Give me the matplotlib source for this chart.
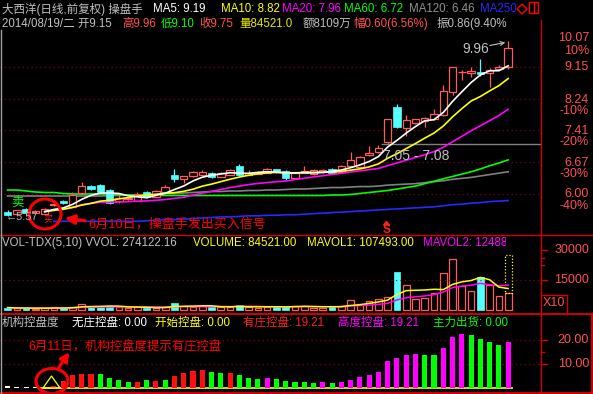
import numpy as np
import pandas as pd
import matplotlib
matplotlib.use('Agg')
import matplotlib.pyplot as plt
from matplotlib.patches import Rectangle, Ellipse, Polygon, FancyArrowPatch
from matplotlib.lines import Line2D
from matplotlib.transforms import Bbox

plt.rcParams['font.family'] = ['Liberation Sans', 'Noto Sans CJK SC']

# daily candles (55 sessions, last = 2014/08/19)
opens = [5.66, 5.62, 5.71, 5.64, 5.61, 5.79, 5.87, 5.75, 6.01, 6.16,
         6.18, 6.07, 5.87, 5.90, 5.87, 6.04, 5.95, 6.03, 6.39, 6.31,
         6.36, 6.40, 6.44, 6.35, 6.40, 6.59, 6.40, 6.42, 6.44, 6.51,
         6.47, 6.33, 6.44, 6.41, 6.45, 6.52, 6.45, 6.59, 6.57, 6.82,
         6.89, 7.13, 8.00, 7.46, 7.59, 7.64, 7.69, 7.80, 8.43, 8.99,
         8.96, 9.01, 8.96, 9.10, 9.15]
highs = [5.68, 5.69, 5.72, 5.69, 5.72, 5.88, 5.89, 6.03, 6.25, 6.18,
         6.20, 6.10, 6.00, 5.95, 6.03, 6.06, 6.08, 6.18, 6.52, 6.38,
         6.47, 6.50, 6.46, 6.45, 6.52, 6.63, 6.50, 6.47, 6.54, 6.53,
         6.50, 6.45, 6.59, 6.51, 6.52, 6.54, 6.60, 6.90, 6.80, 7.03,
         7.05, 7.70, 8.10, 7.80, 7.71, 7.74, 7.96, 8.62, 9.15, 9.06,
         9.15, 9.39, 9.11, 9.22, 9.96]
lows = [5.57, 5.60, 5.62, 5.63, 5.60, 5.76, 5.80, 5.74, 6.00, 6.08,
        6.02, 5.80, 5.82, 5.88, 5.86, 5.92, 5.94, 6.02, 6.24, 6.23,
        6.35, 6.39, 6.33, 6.34, 6.39, 6.38, 6.39, 6.41, 6.43, 6.43,
        6.28, 6.32, 6.43, 6.40, 6.44, 6.42, 6.44, 6.58, 6.56, 6.80,
        6.87, 7.08, 7.46, 7.28, 7.57, 7.49, 7.67, 7.78, 8.35, 8.76,
        8.86, 8.88, 8.55, 9.05, 9.10]
closes = [5.60, 5.68, 5.64, 5.67, 5.70, 5.81, 5.82, 5.98, 6.16, 6.10,
          6.03, 5.83, 5.93, 5.93, 6.00, 5.94, 6.06, 6.14, 6.31, 6.36,
          6.46, 6.45, 6.35, 6.44, 6.50, 6.40, 6.44, 6.45, 6.52, 6.45,
          6.33, 6.44, 6.47, 6.49, 6.50, 6.44, 6.59, 6.72, 6.79, 6.88,
          6.99, 7.69, 7.50, 7.67, 7.69, 7.72, 7.82, 8.44, 9.14, 9.01,
          9.04, 8.93, 9.06, 9.15, 9.75]
ma60 = [6.08, 6.08, 6.06, 6.04, 6.03, 6.03, 6.01, 6.00, 6.00, 6.00,
        6.00, 6.00, 5.99, 5.98, 5.97, 5.97, 5.97, 5.97, 5.97, 5.97,
        5.97, 5.97, 5.97, 5.97, 5.97, 5.97, 5.97, 5.97, 5.97, 5.97,
        5.97, 5.97, 5.97, 5.97, 5.97, 5.98, 5.98, 5.99, 6.01, 6.03,
        6.05, 6.07, 6.10, 6.13, 6.16, 6.21, 6.26, 6.31, 6.36, 6.41,
        6.46, 6.52, 6.59, 6.65, 6.72]
ma120 = [5.96, 5.96, 5.96, 5.96, 5.96, 5.96, 5.96, 5.96, 5.96, 5.96,
         5.96, 5.97, 5.97, 5.98, 5.98, 5.99, 6.00, 6.01, 6.01, 6.02,
         6.03, 6.04, 6.05, 6.05, 6.06, 6.06, 6.07, 6.07, 6.08, 6.08,
         6.09, 6.10, 6.10, 6.11, 6.12, 6.13, 6.13, 6.14, 6.15, 6.15,
         6.16, 6.18, 6.19, 6.20, 6.21, 6.23, 6.25, 6.27, 6.30, 6.32,
         6.34, 6.37, 6.40, 6.43, 6.46]
ma250 = [np.nan] * 5 + [
         5.48, 5.48, 5.48, 5.48, 5.48, 5.48, 5.48, 5.48, 5.48, 5.48,
         5.49, 5.50, 5.51, 5.51, 5.52, 5.53, 5.54, 5.55, 5.56, 5.56,
         5.57, 5.58, 5.58, 5.59, 5.59, 5.60, 5.60, 5.61, 5.62, 5.63,
         5.64, 5.65, 5.66, 5.67, 5.68, 5.69, 5.70, 5.71, 5.72, 5.73,
         5.74, 5.75, 5.77, 5.79, 5.80, 5.82, 5.83, 5.85, 5.86, 5.87]
volumes = [1200, 800, 1000, 700, 1000, 1300, 1100, 1500, 3000, 1800,
           1700, 2000, 1300, 1000, 1300, 1200, 1100, 1500, 3600, 1900,
           1700, 1800, 1500, 1400, 1600, 2300, 1400, 1200, 1600, 1700,
           1900, 2000, 2000, 1150, 1150, 2000, 2000, 5000, 3000, 4650,
           5500, 6650, 19150, 12500, 5500, 6200, 8500, 18300, 25500, 11900,
           9500, 16300, 12500, 7000, 8452]
vol_forecast = 27500
ctrl_vals = [0.8, 0.5, 0.5, 0.5, 0, 1.0, 2.9, 5.4, 5.7, 6.0,
             5.7, 4.3, 3.3, 2.6, 2.6, 3.3, 2.9, 3.3, 5.1, 6.4,
             7.1, 7.5, 6.8, 6.2, 6.4, 5.4, 4.3, 3.8, 4.3, 3.8,
             2.9, 2.5, 2.5, 2.0, 2.5, 2.0, 2.5, 3.3, 4.7, 5.4,
             6.8, 11.2, 12.6, 13.8, 14.2, 13.8, 13.8, 16.8, 21.2, 22.5,
             22.1, 20.6, 19.3, 17.9, 19.21]
ctrl_kind = list('wwww-rrrrrggggrgrgrrrrggrgggmgggggmgmmmmmmmmmggmmmggggm')

price_ticks = ['10.07', '10%', '9.15', '8.24', '-10%', '7.41', '-20%',
               '6.67', '-30%', '6.00', '-40%']
grid_prices = [9.15, 8.24, 7.41, 6.67, 6.00]

W, H = 593, 394
X0, STEP = 7.6, 9.27
RIGHT = 541
HS = 8.3  # header font size

UP = '#ff5c5c'
DOWN = '#54ffff'
AXRED = '#d00000'
LABEL = '#ff5050'
GRID = '#a00000'
GREY = '#c0c0c0'
MAG = '#ff00ff'
GREEN = '#00ff00'
YEL = '#ffff00'
BLUE = '#2828ff'
kind_color = {'w': 'white', 'r': '#ff1010', 'g': GREEN, 'm': MAG}

fig = plt.figure(figsize=(W / 100, H / 100), dpi=100, facecolor='black')


def fx(x):
    return x / W


def fy(y):
    return 1 - y / H


def txt(x, y, s, color, size=HS, ha='left', clip=None, **kw):
    t = fig.text(fx(x), fy(y), s, color=color, fontsize=size, ha=ha, va='center', **kw)
    if clip is not None:
        t.set_clip_box(Bbox.from_extents(0, 0, clip, H))
        t.set_clip_on(True)
    return t


def panel(top, bottom):
    ax = fig.add_axes([0, fy(bottom), fx(RIGHT), (bottom - top) / H])
    ax.axis('off')
    ax.set_xlim(-X0 / STEP, (RIGHT - X0) / STEP)
    return ax


def seg(x0, y0, x1, y1, color=AXRED, lw=1.0, **kw):
    fig.add_artist(Line2D([fx(x0), fx(x1)], [fy(y0), fy(y1)], color=color, lw=lw, **kw))


n = len(closes)
x = np.arange(n)
c = pd.Series(closes)
ma5 = c.rolling(5).mean()
ma10 = c.rolling(10, min_periods=5).mean()
ma20 = c.rolling(20, min_periods=5).mean()

# ---------------- main price panel ----------------
ax = panel(30, 234)
ax.set_yscale('log')
ax.set_ylim(5.253, 10.347)
for g in grid_prices:
    ax.axhline(g, color=GRID, lw=0.8, ls=(0, (1, 3)))

ax.plot(x, ma250, color=BLUE, lw=1.2)
ax.plot(x, ma120, color='#808080', lw=1.2)
ax.plot(x, ma60, color=GREEN, lw=1.2)

bw = 0.8
for i in range(n):
    o, h, l, cl = opens[i], highs[i], lows[i], closes[i]
    lo, hi = min(o, cl), max(o, cl)
    if cl >= o:
        hi = max(hi, lo * 1.002)
        ax.vlines(i, l, lo, color=UP, lw=0.9)
        ax.vlines(i, hi, h, color=UP, lw=0.9)
        ax.add_patch(Rectangle((i - bw / 2, lo), bw, hi - lo, fill=True,
                               fc='black', ec=UP, lw=0.9, zorder=3))
    else:
        ax.vlines(i, l, h, color=DOWN, lw=0.9)
        ax.add_patch(Rectangle((i - bw / 2, lo), bw, hi - lo, fc=DOWN,
                               ec=DOWN, lw=0.5, zorder=3))

ax.plot(x, ma20, color=MAG, lw=1.2, zorder=4)
ax.plot(x, ma10, color=YEL, lw=1.2, zorder=4)
ax.plot(x, ma5, color='white', lw=1.2, zorder=4)
ax.hlines(7.08, (381 - X0) / STEP, (RIGHT - X0) / STEP, color='#808080', lw=1.0)

# ---------------- volume panel ----------------
axv = panel(236, 312)
axv.set_ylim(-1000, 37000)
axv.axhline(15000, color=GRID, lw=0.8, ls=(0, (1, 3)))
vw = 0.72
for i in range(n):
    if closes[i] >= opens[i]:
        axv.add_patch(Rectangle((i - vw / 2, 0), vw, volumes[i], fill=False, ec=UP, lw=0.9))
    else:
        axv.add_patch(Rectangle((i - vw / 2, 0), vw, volumes[i], fc=DOWN, ec=DOWN, lw=0.5))
axv.add_patch(Rectangle((n - 1 - vw / 2, volumes[-1]), vw, vol_forecast - volumes[-1],
                        fill=False, ec=YEL, lw=0.9, ls=(0, (1, 1.5))))
v = pd.Series(volumes)
axv.plot(x, v.rolling(10, min_periods=1).mean(), color=MAG, lw=1.1)
axv.plot(x, v.rolling(5, min_periods=1).mean(), color=YEL, lw=1.1)

# ---------------- 机构控盘度 panel ----------------
axi = panel(314, 392)
axi.set_ylim(-4 / 2.4, (388 - 314) / 2.4)
for g in [10, 20]:
    axi.axhline(g, color=GRID, lw=0.8, ls=(0, (1, 3)))
axi.hlines(0, 3.5, n - 0.5, color=YEL, lw=1.2)
for i in range(n):
    if ctrl_kind[i] != '-':
        axi.bar(i, ctrl_vals[i], width=0.55, color=kind_color[ctrl_kind[i]], zorder=3)

# ---------------- frame lines ----------------
seg(RIGHT, 20, RIGHT, H)
seg(0, 235, W, 235)
seg(0, 313.5, W, 313.5, lw=1.4)
seg(0, 392.5, W, 392.5, lw=1.4)
seg(1, 30, 1, H, color='#a0a0a0')
seg(592, 313.5, 592, 392.5, lw=1.4)
# X10 box
seg(RIGHT, 295, 567, 295)
seg(567, 295, 567, 312)
txt(554, 303.5, 'X10', LABEL, size=9, ha='center')
for yy, ln in [(250, 6), (258, 3), (265, 3), (280, 6)]:
    seg(RIGHT, yy, RIGHT + ln, yy)
for yy, ln in [(340, 6), (352, 3), (364, 6)]:
    seg(RIGHT, yy, RIGHT + ln, yy)

# ---------------- headers ----------------
txt(2, 9, '大西洋(日线,前复权) 操盘手', GREY)
txt(153, 9, 'MA5: 9.19', 'white')
txt(221, 9, 'MA10: 8.82', YEL)
txt(282, 9, 'MA20: 7.96', MAG)
txt(344, 9, 'MA60: 6.72', GREEN)
txt(409, 9, 'MA120: 6.46', '#909090')
txt(480, 9, 'MA250: 5.87', BLUE, clip=516)
fig.add_artist(Polygon([(fx(517), fy(9)), (fx(522), fy(4)), (fx(527), fy(9)), (fx(522), fy(14))],
                       closed=True, fill=False, ec='#ff0000', lw=1.0))
fig.add_artist(Rectangle((fx(529), fy(13)), fx(9), 11 / H, fill=False, ec='#ff0000', lw=1.0))
seg(534, 2, 534, 13, color='#ff0000')

txt(2, 24, '2014/08/19/二 开9.15', GREY)
txt(122, 24, '高9.96', LABEL)
txt(161, 24, '低9.10', GREEN)
txt(199, 24, '收9.75', LABEL)
txt(239, 24, '量84521.0', '#e8e800')
txt(303, 24, '额8109万', GREY)
txt(353, 24, '幅0.60(6.56%)', LABEL)
txt(437, 24, '振0.86(9.40%', GREY)

txt(2, 243, 'VOL-TDX(5,10) VVOL: 274122.16', GREY)
txt(193, 243, 'VOLUME: 84521.00', YEL)
txt(307, 243, 'MAVOL1: 107493.00', YEL)
txt(423, 243, 'MAVOL2: 124881.00', MAG, clip=506)

txt(2, 323, '机构控盘度', GREY)
txt(72, 323, '无庄控盘: 0.00', 'white')
txt(155, 323, '开始控盘: 0.00', YEL)
txt(243, 323, '有庄控盘: 19.21', '#ff2020')
txt(338, 323, '高度控盘: 19.21', MAG)
txt(433, 323, '主力出货: 0.00', GREEN)

# right axis labels
for s, yy in zip(price_ticks, [38, 51, 67, 100, 111, 131, 142, 163, 174, 194, 206]):
    txt(589, yy, s, LABEL, size=9, ha='right')
txt(589, 250, '30000', LABEL, size=9, ha='right')
txt(589, 280, '15000', LABEL, size=9, ha='right')
txt(589, 340, '20.00', LABEL, size=9, ha='right')
txt(589, 364, '10.00', LABEL, size=9, ha='right')

# ---------------- annotations ----------------
txt(462, 49, '9.96', GREY, size=10)
fig.add_artist(FancyArrowPatch((fx(487), fy(46)), (fx(508), fy(42)), transform=fig.transFigure,
                               arrowstyle='->', mutation_scale=7, color=GREY, lw=0.8))
txt(383, 156, '7.05 - 7.08', GREY, size=10)
txt(386.5, 230, 'S', '#ff2020', size=8.5, ha='center', weight='bold')
fig.add_artist(Polygon([(fx(383.5), fy(225)), (fx(386.5), fy(221.5)), (fx(389.5), fy(225))],
                       closed=True, color='#ff2020'))
txt(11, 203, '卖', GREEN, size=9)
txt(6, 217, '←5.57', '#b0b0b0', size=8)
txt(48, 219, '买', '#ff2020', size=6.5, ha='center')
fig.add_artist(Ellipse((fx(45), fy(214)), 32 / W, 30 / H, fill=False, ec='#ff0000', lw=2.2))
fig.add_artist(FancyArrowPatch((fx(88), fy(221)), (fx(62), fy(218)), transform=fig.transFigure,
                               arrowstyle='-|>', mutation_scale=14, color='#ff0000', lw=2.2))
txt(88, 224, '6月10日，操盘手发出买入信号', '#ff0000', size=9.4)

fig.add_artist(Polygon([(fx(43), fy(388)), (fx(51.5), fy(376)), (fx(60), fy(388))],
                       closed=True, fill=False, ec=YEL, lw=0.9))
fig.add_artist(Ellipse((fx(52), fy(381)), 32 / W, 25 / H, fill=False, ec='#ff0000', lw=2.2))
fig.add_artist(FancyArrowPatch((fx(57), fy(370)), (fx(71), fy(350)), transform=fig.transFigure,
                               arrowstyle='-|>', mutation_scale=13, color='#ff0000', lw=2.2))
txt(28, 347, '6月11日，机构控盘度提示有庄控盘', '#ff0000', size=8.9)

fig.savefig('out.png', dpi=100, facecolor='black')
